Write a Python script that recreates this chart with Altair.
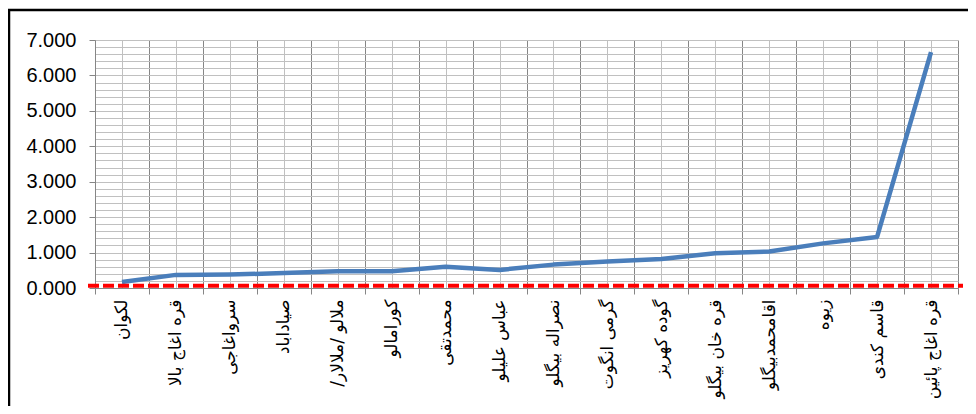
import json
import altair as alt
import pandas as pd

names = [
    "لکوان", "قره اغاج بالا", "سرواغاجی", "صیاداباد", "ملالو /ملالار/\u200f",
    "کورامالو", "محمدتقی", "عباس علیلو", "نصراله بیگلو", "گرمی انگوت",
    "گوده کهریز", "قره خان بیگلو", "اقامحمدبیگلو", "زیوه", "قاسم کندی",
    "قره اغاج پائین",
]
values = [0.17, 0.37, 0.38, 0.42, 0.47, 0.47, 0.60, 0.51, 0.66, 0.75,
          0.82, 0.98, 1.03, 1.26, 1.44, 6.66]
threshold = [0.06]

W, H = 863, 248

df = pd.DataFrame({"idx": list(range(len(names))), "name": names, "value": values})
thr = pd.DataFrame({"t": threshold})

x_vals = [i * 0.5 - 0.5 for i in range(2 * len(names) + 1)]
y_vals = [round(i * 0.2, 1) for i in range(36)]

names_js = json.dumps(names, ensure_ascii=False)

x_axis = alt.Axis(
    values=x_vals,
    labelExpr=f"datum.value % 1 === 0 ? {names_js}[datum.value] : ''",
    labelAngle=270,
    labelOverlap=False,
    labelFlush=False,
    labelFont="DejaVu Sans",
    labelFontSize=17,
    labelColor="#000000",
    labelPadding=5,
    grid=True,
    gridColor={"condition": {"test": "datum.value % 1 !== 0", "value": "#868686"}, "value": "#c0c0c0"},
    gridWidth=1,
    tickColor="#868686",
    tickOpacity={"condition": {"test": "datum.value % 1 !== 0", "value": 1}, "value": 0},
    tickSize=6,
    domainColor="#868686",
    title=None,
)

y_axis = alt.Axis(
    values=y_vals,
    labelExpr="abs(datum.value - round(datum.value)) < 0.001 ? format(datum.value, '.3f') : ''",
    labelOverlap=False,
    labelFlush=False,
    labelFont="Liberation Sans",
    labelFontSize=20,
    labelColor="#000000",
    labelPadding=13,
    grid=True,
    gridColor="#c0c0c0",
    gridWidth=1,
    tickColor="#868686",
    tickOpacity={"condition": {"test": "abs(datum.value - round(datum.value)) < 0.001", "value": 1}, "value": 0},
    tickSize=6,
    domainColor="#868686",
    title=None,
)

line = alt.Chart(df).mark_line(color="#4a7ebb", strokeWidth=4.5, strokeJoin="round").encode(
    x=alt.X("idx:Q", scale=alt.Scale(domain=[-0.5, 15.5], nice=False, zero=False), axis=x_axis),
    y=alt.Y("value:Q", scale=alt.Scale(domain=[0, 7], nice=False), axis=y_axis),
)

red = alt.Chart(thr).mark_rule(color="#ff0000", strokeWidth=4, strokeDash=[11, 4]).encode(
    y=alt.Y("t:Q", axis=y_axis),
    x=alt.value(-7),
    x2=alt.value(W + 5),
)

dummy = alt.Data(values=[{"a": 1}])
frame_left = alt.Chart(dummy).mark_rule(color="#000000", strokeWidth=2.5).encode(
    x=alt.value(-86), y=alt.value(-31), y2=alt.value(H + 140)
)
frame_top = alt.Chart(dummy).mark_rule(color="#000000", strokeWidth=2.5).encode(
    x=alt.value(-87), x2=alt.value(W + 40), y=alt.value(-30)
)

chart = alt.layer(line, red, frame_left, frame_top).properties(
    width=W,
    height=H,
    autosize=alt.AutoSizeParams(type="none"),
    padding={"left": 87, "top": 32, "right": 10, "bottom": 118},
).configure_view(strokeWidth=0)

chart.save("out.html", embed_options={"renderer": "svg", "actions": False})
